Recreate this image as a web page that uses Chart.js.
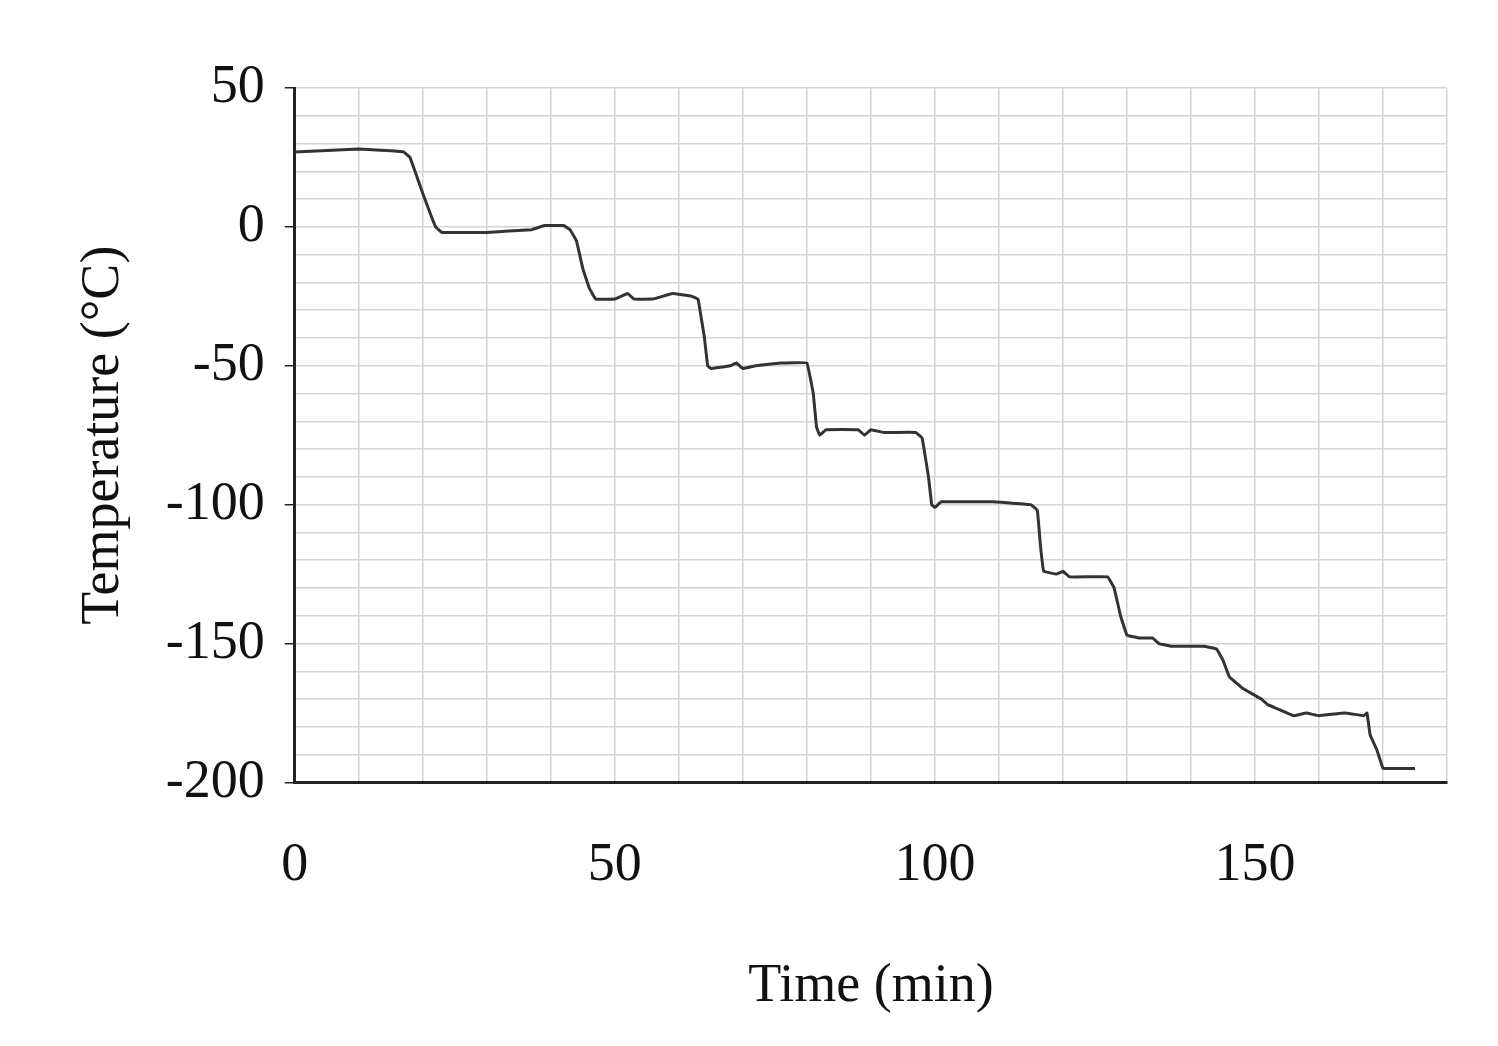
<!DOCTYPE html>
<html><head><meta charset="utf-8">
<script src="https://cdn.jsdelivr.net/npm/chart.js@4"></script>
<style>html,body{margin:0;background:#fff}#w{width:1498px;height:1046px}</style>
</head><body><div id="w"><canvas id="c"></canvas></div>
<script>
const times = [0,10,17,18,20,22,23,30,37,39,42,43,44,45,46,47,50,52,53,56,59,62,63,64,64.5,65,68,69,70,72,76,80,81,81.5,82,83,88,89,90,92,97,98,99,99.5,100,101,109,115,116,116.5,117,119,120,121,124,127,128,129,130,132,134,135,137,142,144,145,146,148,151,152,154,156,158,160,164,167,167.5,168,169,170,171,175];
const temps = [27,28,27,25,12,0,-2,-2,-1,0.5,0.5,-1,-5,-15,-22,-26,-26,-24,-26,-26,-24,-25,-26,-40,-50,-51,-50,-49,-51,-50,-49,-49,-60,-72,-75,-73,-73,-75,-73,-74,-74,-76,-90,-100,-101,-99,-99,-100,-102,-115,-124,-125,-124,-126,-126,-126,-130,-140,-147,-148,-148,-150,-151,-151,-152,-156,-162,-166,-170,-172,-174,-176,-175,-176,-175,-176,-175,-183,-188,-195,-195,-195];
const xLabels = [0,50,100,150];
const yLabels = [50,0,-50,-100,-150,-200];
const font = 'Liberation Serif, Times New Roman, serif';
new Chart(document.getElementById('c'), {
  type:'line',
  data:{datasets:[{data:times.map((t,i)=>({x:t,y:temps[i]})),borderColor:'#333',borderWidth:3,pointRadius:0,tension:0.05,fill:false}]},
  options:{
    responsive:true,maintainAspectRatio:false,animation:false,
    layout:{padding:{left:67,right:33,top:88,bottom:23}},
    plugins:{legend:{display:false},tooltip:{enabled:false}},
    scales:{
      x:{type:'linear',min:0,max:180,
        ticks:{stepSize:10,autoSkip:false,maxRotation:0,color:'#111',font:{family:font,size:54},padding:51,
          callback:v=>xLabels.includes(v)?String(v):''},
        grid:{color:'#d4d4d4',lineWidth:1.5,drawTicks:false},
        border:{color:'#222',width:3},
        title:{display:true,text:'Time (min)',color:'#111',font:{family:font,size:54},padding:{top:5}}},
      y:{min:-200,max:50,
        ticks:{stepSize:10,autoSkip:false,color:'#111',font:{family:font,size:54},padding:20,
          callback:v=>yLabels.includes(v)?String(v):''},
        grid:{color:'#d4d4d4',lineWidth:1.5,drawTicks:true,tickLength:10,tickColor:ctx=>yLabels.includes(ctx.tick&&ctx.tick.value)?'#222':'rgba(0,0,0,0)'},
        border:{color:'#222',width:3},
        title:{display:true,text:'Temperature (°C)',color:'#111',font:{family:font,size:54},padding:{bottom:10}}}
    }
  }
});
</script></body></html>
